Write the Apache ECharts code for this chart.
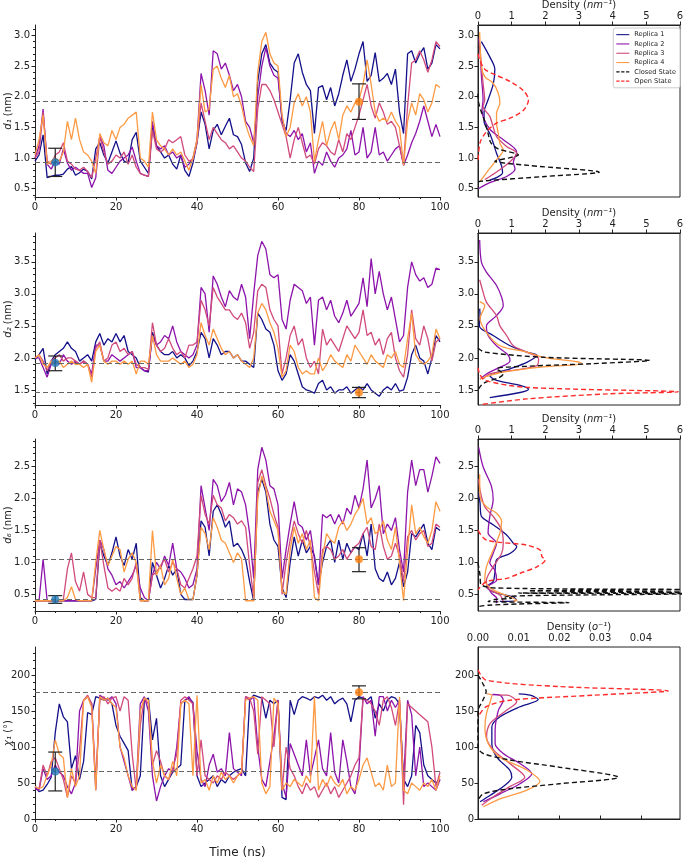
<!DOCTYPE html>
<html>
<head>
<meta charset="utf-8">
<script src="https://cdn.jsdelivr.net/npm/echarts@6/dist/echarts.min.js"></script>
<style>
  html, body { margin: 0; padding: 0; background: #fff; }
  #main { width: 683px; height: 858px; }
</style>
</head>
<body>
<div id="main"></div>
<script>
// sampling step of the trajectories (ns)
const dt = 1;
const replicaNames = ['Replica 1', 'Replica 2', 'Replica 3', 'Replica 4'];
const stateNames = ['Closed State', 'Open State'];

// ---- d1 (nm) ----
const d1R1 = [0.95,1.05,1.38,0.68,0.70,0.72,0.72,0.74,0.82,0.86,
  0.72,0.76,0.82,0.78,0.66,1.15,1.25,1.05,0.92,1.10,
  1.28,1.08,0.95,0.92,1.30,1.42,0.95,0.85,0.75,1.50,
  1.20,1.10,1.00,1.05,0.90,0.82,1.05,0.80,0.70,0.92,
  1.25,1.75,1.55,1.15,1.45,1.55,1.38,1.52,1.65,1.38,
  1.35,1.22,0.92,0.78,1.00,2.25,2.70,2.85,2.55,2.45,
  2.40,1.60,1.45,1.95,2.55,2.70,2.40,2.20,2.10,1.40,
  2.15,2.18,1.95,2.15,1.85,2.05,2.35,2.60,2.25,2.45,
  2.70,2.90,2.25,2.35,2.72,2.25,2.30,2.38,2.20,2.45,
  1.75,1.40,2.70,2.75,2.55,2.70,2.80,2.45,2.55,2.85,2.78];
const d1R2 = [1.00,1.20,1.80,0.90,0.82,0.95,0.90,1.15,0.92,0.80,
  0.85,0.80,0.75,0.75,0.52,0.68,1.35,1.20,0.80,0.75,
  0.85,0.95,1.00,1.05,1.18,0.95,0.75,0.72,0.70,1.60,
  1.20,1.15,1.20,1.05,1.10,1.00,1.05,0.85,0.90,1.00,
  1.30,2.38,2.10,1.70,2.75,2.70,2.45,2.55,2.35,2.10,
  2.20,2.00,1.60,1.50,1.25,2.00,2.50,2.80,2.50,2.35,
  2.30,1.65,1.40,1.35,1.45,1.30,1.40,1.10,1.25,0.75,
  0.95,0.88,1.10,0.95,0.85,1.00,1.05,1.15,1.45,1.05,
  1.10,1.50,1.00,1.10,1.50,1.05,1.10,0.95,1.05,1.15,
  1.20,0.88,1.05,1.25,1.40,1.60,1.85,1.60,1.35,1.55,1.35];
const d1R3 = [1.00,1.10,1.75,0.95,0.90,1.05,1.10,1.25,0.95,0.90,
  0.82,0.80,0.85,0.78,0.68,1.00,1.35,1.10,0.90,0.95,
  1.05,1.00,1.10,0.90,1.05,0.85,0.75,0.72,0.70,1.45,
  1.15,1.10,1.15,1.30,1.25,1.30,1.35,1.05,0.95,0.98,
  1.25,1.90,1.60,1.30,1.50,1.40,1.30,1.25,1.15,1.20,
  1.10,1.00,0.95,0.85,0.78,1.80,2.20,2.20,2.10,1.95,
  1.75,1.55,1.35,1.00,1.30,1.50,1.25,1.00,1.05,0.90,
  1.15,1.25,1.20,1.10,1.05,1.30,1.10,1.40,1.30,1.50,
  1.70,1.95,2.20,1.85,1.65,1.90,1.75,1.55,1.60,1.50,
  1.20,0.90,1.85,2.55,2.60,2.75,2.60,2.40,2.60,2.90,2.82];
const d1R4 = [1.05,1.30,1.70,0.90,0.95,1.00,0.95,1.10,1.60,1.30,
  1.65,1.30,1.10,1.05,0.95,0.75,1.40,1.25,1.20,1.45,
  1.30,1.50,1.55,1.65,1.70,1.75,1.00,0.95,0.85,1.75,
  1.30,1.20,1.15,1.05,1.15,1.05,1.10,0.95,0.80,1.00,
  1.30,2.20,1.75,1.80,2.45,2.50,2.30,2.15,2.35,2.00,
  2.05,1.85,1.55,1.35,1.20,2.40,2.90,3.05,2.70,2.55,
  2.50,1.70,1.35,1.50,1.90,2.05,1.85,2.00,1.75,0.95,
  1.30,1.60,1.20,1.45,1.60,1.30,1.70,1.85,1.75,1.90,
  1.95,2.20,2.60,2.20,1.75,1.60,1.65,1.60,1.75,1.60,
  1.50,0.88,1.60,1.90,1.70,2.05,1.95,1.75,1.90,2.20,2.15];

// ---- d2 (nm) ----
const d2R1 = [1.97,2.05,2.15,1.75,1.95,2.05,2.10,2.15,2.25,2.15,
  2.10,1.95,2.00,2.05,1.95,2.25,2.38,2.20,2.30,2.25,
  2.38,2.25,2.35,2.10,2.05,2.00,1.85,1.80,1.78,2.40,
  2.20,2.10,2.05,2.05,2.10,2.00,2.05,2.00,1.88,1.95,
  2.10,2.40,2.30,2.00,2.30,2.20,2.05,2.10,2.10,2.00,
  2.05,1.95,1.95,1.90,1.85,2.70,2.60,2.45,2.40,2.20,
  1.80,1.65,1.75,2.05,1.95,1.75,1.55,1.50,1.48,1.45,
  1.60,1.65,1.50,1.55,1.45,1.50,1.50,1.55,1.45,1.50,
  1.55,1.50,1.60,1.50,1.45,1.40,1.50,1.55,1.50,1.60,
  1.48,1.50,1.70,2.05,2.20,2.00,1.95,1.75,2.00,2.35,2.25];
const d2R2 = [2.00,2.00,1.85,1.70,1.90,1.95,1.90,2.05,1.95,1.90,
  1.95,1.90,1.95,1.90,1.75,2.20,2.20,1.95,1.95,2.05,
  2.00,1.95,2.00,2.05,2.10,1.85,1.85,1.80,1.80,2.35,
  2.20,2.25,2.35,2.30,2.50,2.25,2.10,2.05,2.00,2.05,
  2.20,3.10,3.00,2.40,3.28,3.15,2.95,2.80,3.05,2.95,
  2.90,3.15,2.95,2.30,3.00,3.60,3.82,3.70,3.30,3.25,
  3.30,2.60,2.45,2.90,3.15,3.10,3.05,2.85,2.95,2.20,
  2.90,2.95,2.75,2.90,2.65,2.55,2.70,2.90,2.65,2.75,
  2.85,3.25,2.80,3.55,3.00,3.35,3.00,2.75,2.95,2.60,
  2.25,2.35,3.10,3.50,3.30,3.20,3.25,3.10,3.15,3.40,3.38];
const d2R3 = [2.00,2.05,1.95,1.80,1.95,2.00,2.05,1.95,2.00,2.00,
  1.95,1.90,1.95,1.90,1.70,2.15,2.25,1.95,2.00,2.20,
  2.25,2.10,2.15,2.05,2.10,1.90,1.85,1.85,1.82,2.55,
  2.20,2.10,2.15,2.30,2.15,2.05,2.10,2.00,2.20,2.20,
  2.25,2.90,2.75,2.50,3.10,2.95,2.85,2.75,2.75,2.65,
  2.60,2.70,2.55,2.15,2.40,3.05,3.15,3.10,2.75,2.60,
  2.50,1.75,2.00,2.35,2.50,2.20,2.30,2.00,1.85,1.95,
  1.75,2.45,2.20,2.30,2.20,2.10,2.30,2.50,2.40,2.30,
  2.40,2.75,2.35,2.40,2.20,2.30,2.05,2.30,2.40,2.00,
  1.80,1.70,2.05,2.75,2.30,2.20,2.50,2.30,1.95,2.25,2.30];
const d2R4 = [2.00,2.05,1.90,1.85,1.95,1.90,1.95,1.85,1.90,1.95,
  1.90,1.90,1.85,1.90,1.62,2.10,2.20,1.95,1.90,1.95,
  1.95,1.90,1.95,1.90,1.95,1.75,1.95,1.95,1.90,2.35,
  2.05,1.95,1.95,1.95,2.00,1.95,1.90,1.95,1.85,1.90,
  2.05,2.55,2.35,2.20,2.45,2.30,2.15,2.05,2.10,2.00,
  2.05,1.95,1.90,1.85,2.00,2.70,2.85,2.75,2.55,2.40,
  2.15,1.70,1.80,2.20,2.10,1.85,1.75,1.80,1.75,1.75,
  2.00,1.80,1.90,2.05,1.95,1.90,1.85,2.05,1.95,2.20,
  2.10,2.00,1.90,2.05,1.95,1.90,1.85,2.05,2.00,2.10,
  1.90,1.85,2.30,2.70,2.05,1.95,1.90,1.95,2.05,2.45,2.30];

// ---- d6 (nm) ----
const d6R1 = [0.42,0.40,0.40,0.40,0.40,0.40,0.40,0.40,0.40,0.40,
  0.40,0.40,0.40,0.40,0.40,0.42,1.30,1.10,0.95,1.15,
  1.40,1.10,0.95,1.20,1.05,1.30,0.45,0.40,0.40,1.00,
  0.80,0.60,0.75,0.95,0.80,0.90,0.50,0.42,0.42,0.42,
  0.80,1.65,1.55,1.10,1.80,1.90,1.75,1.55,1.65,1.25,
  1.30,1.20,1.05,0.70,0.40,2.10,2.30,2.10,1.60,1.35,
  1.25,0.60,0.45,1.00,1.40,1.10,1.35,1.15,1.25,1.10,
  0.65,1.00,1.25,1.35,1.00,1.35,1.05,1.30,1.15,1.25,
  1.20,1.45,1.10,1.60,0.90,0.75,0.70,0.85,0.65,0.75,
  1.00,0.62,0.85,1.45,1.40,1.50,1.60,1.30,1.20,1.55,1.50];
const d6R2 = [0.40,0.40,1.05,0.40,0.40,0.40,0.40,0.40,0.40,0.40,
  0.40,0.40,0.40,0.40,0.40,0.90,1.35,1.20,0.90,0.80,
  0.65,0.70,0.60,0.70,0.80,0.95,0.60,0.45,0.40,0.80,
  1.00,0.90,1.10,0.95,1.30,0.90,0.85,0.75,0.60,0.65,
  0.90,2.20,1.85,1.50,2.30,2.20,1.95,2.05,2.25,1.90,
  2.15,2.10,1.90,1.45,0.75,2.45,2.80,2.60,2.20,2.15,
  1.90,0.75,1.20,1.60,1.95,1.60,1.55,1.35,1.50,1.05,
  0.65,1.75,1.70,1.75,1.60,1.75,1.60,1.85,1.75,2.05,
  1.85,2.15,2.60,1.85,2.00,2.20,1.45,1.60,1.50,1.70,
  1.20,0.85,2.10,2.60,2.20,2.45,2.45,2.10,2.35,2.65,2.55];
const d6R3 = [0.40,0.40,0.40,0.40,0.40,0.40,0.40,0.42,0.90,1.15,
  0.70,0.55,0.85,0.50,0.45,0.45,1.35,0.95,0.60,0.55,
  0.60,0.55,0.75,0.65,0.75,1.00,0.40,0.40,0.40,0.80,
  0.85,0.95,1.05,0.85,1.00,0.90,0.65,0.60,0.75,0.90,
  1.10,2.05,1.75,1.60,2.05,1.90,1.85,1.65,1.75,1.70,
  1.60,1.65,1.55,0.95,0.45,2.25,2.45,2.20,2.00,1.75,
  1.55,0.50,1.00,1.35,1.65,1.45,1.30,1.50,1.25,0.85,
  0.50,1.20,1.25,1.20,1.05,1.10,1.20,1.05,1.15,1.25,
  1.30,1.45,1.55,1.25,1.20,1.60,1.25,1.05,1.10,1.30,
  1.10,0.70,1.40,1.50,1.35,1.45,1.50,1.25,1.30,1.60,1.55];
const d6R4 = [0.40,0.40,0.40,0.40,0.40,0.40,0.40,0.40,0.45,0.62,
  0.42,0.40,0.40,0.40,0.40,1.00,1.50,1.20,0.95,1.10,
  1.25,1.20,0.85,1.05,1.15,1.00,0.40,0.40,0.40,1.50,
  0.80,0.95,0.65,0.75,1.05,0.75,0.50,0.60,0.42,0.42,
  0.80,1.55,1.45,1.20,1.70,1.55,1.35,1.30,1.15,1.00,
  1.15,1.05,0.40,0.40,0.40,2.00,2.35,2.15,1.80,1.65,
  1.50,0.55,0.50,1.20,1.55,1.30,1.45,1.20,1.35,0.45,
  0.40,1.10,1.45,1.35,1.30,1.55,1.65,1.50,1.60,1.75,
  1.85,2.00,1.60,1.70,1.45,1.50,1.65,1.35,1.20,1.55,
  1.00,0.40,1.20,1.90,1.45,1.55,1.40,1.30,1.50,1.95,1.80];

// ---- chi1 (deg) ----
const chiR1 = [45,38,40,48,58,120,160,142,135,70,
  88,55,80,148,145,170,168,165,168,160,
  130,115,105,95,40,45,60,165,168,110,
  140,60,45,55,65,70,75,165,168,162,
  60,45,50,55,60,45,55,50,60,65,
  68,70,60,165,172,170,168,140,165,160,
  165,30,27,165,145,165,170,168,165,170,
  168,172,165,170,160,165,168,160,135,165,
  170,168,165,170,140,160,150,165,170,168,
  160,55,45,60,130,120,75,60,55,50,55];
const chiR2 = [42,40,70,55,60,75,65,60,45,35,
  50,150,165,170,160,40,172,168,165,170,
  160,100,80,60,40,45,160,170,150,60,
  25,45,60,70,65,100,160,165,170,160,
  95,55,45,75,90,65,70,60,120,70,
  65,60,170,165,170,100,55,45,80,115,
  165,50,30,105,90,75,60,110,60,85,
  110,70,60,120,65,50,110,80,45,35,
  70,170,160,165,115,170,170,150,165,155,
  165,50,165,145,60,100,45,50,45,40,55];
const chiR3 = [45,42,75,60,80,85,70,55,30,60,
  50,95,165,172,160,50,165,170,160,168,
  170,150,170,165,90,40,130,168,160,75,
  95,80,60,55,70,90,165,170,165,160,
  60,110,60,55,50,60,55,65,60,55,
  60,65,170,168,150,90,170,165,160,100,
  165,40,100,70,60,45,35,50,40,45,
  30,40,50,35,45,30,40,50,60,75,
  85,168,165,160,150,130,165,170,155,130,
  165,20,160,155,150,145,140,135,100,45,65];
const chiR4 = [45,42,45,60,75,110,90,85,30,70,
  45,60,165,170,155,40,170,165,168,160,
  155,100,85,60,45,40,150,168,165,80,
  50,75,60,55,80,60,160,165,160,60,
  172,50,55,40,60,50,65,55,60,50,
  60,65,165,168,170,165,50,35,45,168,
  160,40,50,45,55,50,45,60,50,170,
  40,55,45,60,50,45,55,35,45,40,
  55,75,85,65,45,50,40,75,45,50,
  170,40,35,50,45,40,50,45,55,40,60];

// reference levels (dashed) and error bars [time, mean, low, high]
const d1Refs = [1.92, 0.93];
const d2Refs = [1.92, 1.46];
const d6Refs = [1.05, 0.42];
const chiRefs = [176, 67];
const d1Bars = [[5, 0.93, 0.70, 1.16], [80, 1.92, 1.63, 2.21]];
const d2Bars = [[5, 1.92, 1.80, 2.03], [80, 1.46, 1.38, 1.54]];
const d6Bars = [[5, 0.42, 0.36, 0.48], [80, 1.05, 0.855, 1.23]];
const chiBars = [[5, 66, 39, 93], [80, 176, 167, 185]];

// density curves: [density, value]
const d1DensR1 = [[0.1,2.9],[0.35,2.65],[0.5,2.45],[0.45,2.2],[0.3,1.95],[0.18,1.75],[0.18,1.6],[0.35,1.4],[0.45,1.25],[0.55,1.08],[0.7,0.87],[0.73,0.76],[0.55,0.68],[0.35,0.64]];
const d1DensR2 = [[0.02,2.95],[0.06,2.75],[0.1,2.35],[0.15,1.95],[0.12,1.78],[0.35,1.47],[0.75,1.3],[1.15,1.1],[1.05,0.93],[1.1,0.82],[0.85,0.7],[0.35,0.6],[0.01,0.5]];
const d1DensR3 = [[0.05,2.88],[0.1,2.5],[0.16,2.17],[0.2,1.95],[0.15,1.84],[0.35,1.68],[0.45,1.51],[0.55,1.35],[0.85,1.19],[1.15,1.08],[0.95,0.94],[0.65,0.81],[0.35,0.7],[0.2,0.65]];
const d1DensR4 = [[0.05,3.05],[0.1,2.5],[0.2,2.33],[0.45,2.22],[0.6,2.06],[0.65,1.9],[0.55,1.73],[0.55,1.57],[0.6,1.41],[0.65,1.24],[0.75,1.13],[0.55,0.97],[0.25,0.76],[0.06,0.62]];
const d1Closed = [[0,2.05],[0.02,1.9],[0.1,1.75],[0.2,1.6],[0.3,1.4],[0.38,1.25],[0.6,1.15],[1.2,1.05],[0.9,1.0],[0.5,0.95],[1.5,0.88],[3.6,0.77],[2.0,0.7],[0.05,0.62],[0,0.6]];
const d1Open = [[0,2.7],[0.05,2.6],[0.2,2.45],[0.55,2.35],[0.95,2.25],[1.35,2.1],[1.5,1.95],[1.35,1.78],[0.95,1.65],[0.55,1.57],[0.25,1.43],[0.06,1.25],[0,0.92]];

const d2DensR1 = [[0.05,2.77],[0.06,2.66],[0.04,2.5],[0.45,2.35],[0.95,2.19],[1.45,2.09],[1.75,2.04],[1.45,1.93],[0.95,1.83],[0.35,1.72],[0.55,1.65],[1.25,1.57],[1.5,1.51],[1.25,1.46],[0.35,1.38]];
const d2DensR2 = [[0.05,3.84],[0.1,3.5],[0.25,3.34],[0.55,3.13],[0.7,2.95],[0.75,2.82],[0.55,2.66],[0.25,2.5],[0.3,2.35],[0.55,2.19],[0.9,2.04],[0.95,1.95],[0.55,1.83],[0.25,1.75],[0.06,1.67]];
const d2DensR3 = [[0.05,3.22],[0.15,3.03],[0.25,2.87],[0.55,2.66],[0.65,2.5],[0.85,2.35],[1.05,2.19],[1.45,2.09],[1.8,1.99],[1.75,1.88],[0.95,1.8],[0.35,1.75],[0.15,1.67]];
const d2DensR4 = [[0.05,2.88],[0.2,2.82],[0.06,2.61],[0.25,2.4],[0.65,2.19],[1.45,2.09],[1.95,2.01],[2.95,1.94],[3.1,1.91],[1.95,1.86],[0.75,1.78],[0.25,1.71],[0.06,1.67]];
const d2Closed = [[0,2.15],[0.2,2.09],[1.95,2.01],[5.1,1.96],[3.4,1.91],[1.45,1.87],[0.55,1.83],[0.75,1.75],[0.65,1.7],[0.15,1.6],[0,1.5]];
const d2Open = [[0,1.85],[0.05,1.75],[0.2,1.65],[1.45,1.54],[5.95,1.47],[3.9,1.44],[1.45,1.36],[0.06,1.27]];

const d6DensR1 = [[0.02,2.08],[0.06,1.93],[0.1,1.72],[0.45,1.59],[0.85,1.43],[1.05,1.3],[1.15,1.25],[0.95,1.14],[0.55,1.04],[0.5,0.83],[0.45,0.7],[0.25,0.62],[0.45,0.54],[1.05,0.46],[1.15,0.41],[0.65,0.39]];
const d6DensR2 = [[0.02,2.8],[0.15,2.5],[0.4,2.19],[0.45,1.98],[0.35,1.72],[0.3,1.46],[0.55,1.3],[0.45,1.14],[0.35,0.99],[0.5,0.88],[0.55,0.72],[0.3,0.62],[0.4,0.52],[0.55,0.44],[0.55,0.36]];
const d6DensR3 = [[0.02,2.3],[0.06,2.13],[0.2,1.87],[0.45,1.72],[0.7,1.51],[0.75,1.3],[0.7,1.14],[0.45,0.93],[0.25,0.72],[0.3,0.59],[0.65,0.49],[0.75,0.39]];
const d6DensR4 = [[0.05,2.38],[0.06,2.03],[0.25,1.87],[0.55,1.77],[0.7,1.64],[0.65,1.46],[0.45,1.19],[0.25,0.93],[0.2,0.72],[0.45,0.57],[0.95,0.46],[1.15,0.41],[1.05,0.39]];
const d6Closed = [[0,0.99],[0.06,0.8],[0.08,0.66],[0.5,0.6],[6.5,0.575],[1.5,0.555],[6.5,0.535],[1.2,0.52],[6.5,0.51],[1.45,0.48],[0.8,0.46],[1.0,0.44],[0.5,0.42],[0.3,0.39],[2.7,0.37],[1.2,0.35],[0.3,0.33],[0,0.31]];
const d6Open = [[0,1.5],[0.25,1.35],[1.45,1.27],[1.85,1.19],[1.9,1.09],[2.0,1.04],[1.75,0.93],[1.25,0.83],[0.85,0.75],[0.25,0.7],[0,0.57]];

const chiDensR1 = [[0.01,174],[0.0128,172],[0.0148,166],[0.0103,156],[0.0054,142],[0.0034,128],[0.0034,105],[0.0046,86],[0.0078,68],[0.0083,58],[0.0062,45],[0.003,33],[0.0005,24]];
const chiDensR2 = [[0.0035,173],[0.0054,172],[0.0062,165],[0.005,151],[0.0042,123],[0.0042,105],[0.0062,91],[0.0103,77],[0.0132,63],[0.0103,49],[0.0054,35],[0.0013,24]];
const chiDensR3 = [[0.005,172],[0.0072,172],[0.0095,163],[0.007,151],[0.003,133],[0.0021,114],[0.0038,96],[0.0078,77],[0.0115,58],[0.0078,45],[0.0038,31],[0.0009,19]];
const chiDensR4 = [[0.0022,174],[0.0034,172],[0.003,163],[0.0021,147],[0.0017,128],[0.0025,105],[0.0054,86],[0.012,68],[0.0152,52],[0.012,40],[0.0054,28],[0.0013,17]];
const chiClosed = [[0,200],[0.0012,188],[0.002,177],[0.0012,165],[0,150],[0,100],[0.0013,91],[0.0078,82],[0.02,72],[0.0345,58],[0.02,49],[0.0078,42],[0.0013,35],[0,26]];
const chiOpen = [[0,207],[0.002,193],[0.02,184],[0.0467,178],[0.0283,172],[0.0078,165],[0.002,156],[0,142]];

// tick labels
const d1Ticks = [0.5, 1.0, 1.5, 2.0, 2.5, 3.0];
const d2Ticks = [1.5, 2.0, 2.5, 3.0, 3.5];
const d6Ticks = [0.5, 1.0, 1.5, 2.0, 2.5];
const chiTicks = [0, 50, 100, 150, 200];
const densTicksNm = [0, 1, 2, 3, 4, 5, 6];
const densTicksDeg = [0, 0.01, 0.02, 0.03, 0.04];

const replicaColors = ['#14108a', '#8d14ab', '#d04a7c', '#fd9a44'];
const stateColors = ['#111111', '#ff2a2a'];
const barColors = ['#1f77b4', '#ff7f0e'];
const FONT = 'DejaVu Sans';
const INK = '#222';

const rows = [
  { lines: [d1R1, d1R2, d1R3, d1R4], dens: [d1DensR1, d1DensR2, d1DensR3, d1DensR4], closed: d1Closed, open: d1Open,
    refs: d1Refs, bars: d1Bars, yMin: 0.365, yMax: 3.17, ticks: d1Ticks, minorStep: 0.1, dec: 1,
    yName: '{i|d₁} (nm)', densMax: 6, densTicks: densTicksNm, densDec: 0, densName: 'Density ({i|nm⁻¹})' },
  { lines: [d2R1, d2R2, d2R3, d2R4], dens: [d2DensR1, d2DensR2, d2DensR3, d2DensR4], closed: d2Closed, open: d2Open,
    refs: d2Refs, bars: d2Bars, yMin: 1.265, yMax: 3.95, ticks: d2Ticks, minorStep: 0.1, dec: 1,
    yName: '{i|d₂} (nm)', densMax: 6, densTicks: densTicksNm, densDec: 0, densName: 'Density ({i|nm⁻¹})' },
  { lines: [d6R1, d6R2, d6R3, d6R4], dens: [d6DensR1, d6DensR2, d6DensR3, d6DensR4], closed: d6Closed, open: d6Open,
    refs: d6Refs, bars: d6Bars, yMin: 0.24, yMax: 2.93, ticks: d6Ticks, minorStep: 0.1, dec: 1,
    yName: '{i|d₆} (nm)', densMax: 6, densTicks: densTicksNm, densDec: 0, densName: 'Density ({i|nm⁻¹})' },
  { lines: [chiR1, chiR2, chiR3, chiR4], dens: [chiDensR1, chiDensR2, chiDensR3, chiDensR4], closed: chiClosed, open: chiOpen,
    refs: chiRefs, bars: chiBars, yMin: 0, yMax: 239, ticks: chiTicks, minorStep: 10, dec: 0,
    yName: '{i|χ₁} (°)', densMax: 0.0496, densTicks: densTicksDeg, densDec: 2, densName: 'Density ({i|o⁻¹})' }
];

const tops = [25, 233, 439, 647];
const H = 172;

const labelStyle = { fontFamily: FONT, fontSize: 10, color: INK };
const nameStyle = { fontFamily: FONT, fontSize: 10, color: INK,
  rich: { i: { fontFamily: FONT, fontSize: 10, color: INK, fontStyle: 'italic' } } };

// legend icons: thin solid bar, or three dashes
const solidIcon = 'path://M0,0H24V2H0Z';
const dashIcon = 'path://M0,0H6V2H0Z M9,0H15V2H9Z M18,0H24V2H18Z';

function renderBar(params, api) {
  const t = api.value(0);
  const lo = api.coord([t, api.value(2)]);
  const hi = api.coord([t, api.value(3)]);
  const cap = 7;
  const style = { stroke: INK, lineWidth: 1.2 };
  return { type: 'group', children: [
    { type: 'line', shape: { x1: lo[0], y1: lo[1], x2: hi[0], y2: hi[1] }, style },
    { type: 'line', shape: { x1: lo[0] - cap, y1: lo[1], x2: lo[0] + cap, y2: lo[1] }, style },
    { type: 'line', shape: { x1: hi[0] - cap, y1: hi[1], x2: hi[0] + cap, y2: hi[1] }, style }
  ] };
}

const grid = [], xAxis = [], yAxis = [], series = [];

rows.forEach((r, i) => {
  const gL = 2 * i, gR = 2 * i + 1;
  grid.push({ left: 35, top: tops[i], width: 405, height: H, containLabel: false, outerBoundsMode: 'none' });
  grid.push({ left: 478, top: tops[i], width: 202, height: H, containLabel: false, outerBoundsMode: 'none',
    show: true, borderColor: INK, borderWidth: 1 });

  const minor = [];
  for (let v = Math.ceil(r.yMin / r.minorStep) * r.minorStep; v <= r.yMax; v += r.minorStep) minor.push(+v.toFixed(4));

  // left time axis
  xAxis.push({
    gridIndex: gL, type: 'value', min: 0, max: 100, interval: 20,
    axisLine: { show: true, lineStyle: { color: INK } },
    axisTick: { show: true, length: 3.5, lineStyle: { color: INK } },
    minorTick: { show: true, splitNumber: 4, length: 2, lineStyle: { color: INK } },
    axisLabel: Object.assign({ margin: 5 }, labelStyle),
    splitLine: { show: false }, minorSplitLine: { show: false },
    name: i === 3 ? 'Time (ns)' : '', nameLocation: 'middle', nameGap: 28, nameMoveOverlap: false,
    nameTextStyle: { fontFamily: FONT, fontSize: 12, color: INK }
  });
  // right density axis (top)
  xAxis.push({
    gridIndex: gR, type: 'value', position: 'top', min: 0, max: r.densMax,
    axisLine: { show: true, lineStyle: { color: INK } },
    axisTick: { show: true, length: 3.5, lineStyle: { color: INK }, customValues: r.densTicks },
    axisLabel: Object.assign({ margin: 4, customValues: r.densTicks, formatter: v => v.toFixed(r.densDec) }, labelStyle),
    splitLine: { show: false },
    name: r.densName, nameLocation: 'middle', nameGap: 15, nameMoveOverlap: false, nameTextStyle: nameStyle
  });

  yAxis.push({
    gridIndex: gL, type: 'value', position: 'left', min: r.yMin, max: r.yMax,
    axisLine: { show: true, lineStyle: { color: INK } },
    axisTick: { show: true, length: 3.5, lineStyle: { color: INK }, customValues: r.ticks },
    axisLabel: Object.assign({ margin: 5, customValues: r.ticks, formatter: v => v.toFixed(r.dec) }, labelStyle),
    splitLine: { show: false },
    name: r.yName, nameLocation: 'middle', nameGap: 22, nameRotate: 90, nameMoveOverlap: false,
    nameTextStyle: nameStyle
  });
  yAxis.push({
    gridIndex: gL, type: 'value', position: 'left', offset: 0, min: r.yMin, max: r.yMax,
    axisLine: { show: false },
    axisTick: { show: true, length: 2, lineStyle: { color: INK }, customValues: minor },
    axisLabel: { show: false, customValues: minor },
    splitLine: { show: false }
  });
  yAxis.push({
    gridIndex: gR, type: 'value', position: 'left', min: r.yMin, max: r.yMax,
    axisLine: { show: true, lineStyle: { color: INK } },
    axisTick: { show: true, length: 3.5, lineStyle: { color: INK }, customValues: r.ticks },
    axisLabel: Object.assign({ margin: 4, customValues: r.ticks, formatter: v => v.toFixed(r.dec) }, labelStyle),
    splitLine: { show: false }
  });

  const xL = 2 * i, xR = 2 * i + 1, yL = 3 * i, yR = 3 * i + 2;

  r.lines.forEach((vals, k) => {
    series.push({
      name: replicaNames[k], type: 'line', xAxisIndex: xL, yAxisIndex: yL,
      data: vals.map((v, j) => [j * dt, v]), symbol: 'none',
      lineStyle: { width: 1.3, color: replicaColors[k] }, itemStyle: { color: replicaColors[k] }
    });
  });
  series.push({
    type: 'line', xAxisIndex: xL, yAxisIndex: yL, data: [],
    markLine: { symbol: 'none', silent: true, label: { show: false },
      lineStyle: { type: [5, 3], color: '#666', width: 1.2 },
      data: r.refs.map(v => ({ yAxis: v })) }
  });
  series.push({
    type: 'custom', xAxisIndex: xL, yAxisIndex: yL, renderItem: renderBar,
    encode: { x: 0, y: [2, 3] }, data: r.bars, z: 5
  });
  series.push({
    type: 'scatter', xAxisIndex: xL, yAxisIndex: yL, symbolSize: 8, z: 6,
    data: r.bars.map((b, k) => ({ value: [b[0], b[1]], itemStyle: { color: barColors[k] } }))
  });

  r.dens.forEach((pts, k) => {
    series.push({
      name: replicaNames[k], type: 'line', xAxisIndex: xR, yAxisIndex: yR,
      data: pts, symbol: 'none', smooth: 0.3,
      lineStyle: { width: 1.3, color: replicaColors[k] }, itemStyle: { color: replicaColors[k] }
    });
  });
  [r.closed, r.open].forEach((pts, k) => {
    series.push({
      name: stateNames[k], type: 'line', xAxisIndex: xR, yAxisIndex: yR,
      data: pts, symbol: 'none', smooth: 0.3,
      lineStyle: { width: 1.4, color: stateColors[k], type: [5, 3] }, itemStyle: { color: stateColors[k] }
    });
  });
});

const chart = echarts.init(document.getElementById('main'), null, { renderer: 'canvas' });
chart.setOption({
  animation: false,
  backgroundColor: '#fff',
  legend: {
    data: replicaNames.map(n => ({ name: n, icon: solidIcon }))
      .concat(stateNames.map(n => ({ name: n, icon: dashIcon }))),
    orient: 'vertical', right: 3, top: 28,
    itemWidth: 13, itemHeight: 2, itemGap: 2,
    textStyle: { fontFamily: FONT, fontSize: 6.6, color: INK, lineHeight: 7.3 },
    borderColor: '#ccc', borderWidth: 1, borderRadius: 2,
    padding: [3, 4, 3, 3], backgroundColor: '#fff'
  },
  grid, xAxis, yAxis, series
});
</script>
</body>
</html>
